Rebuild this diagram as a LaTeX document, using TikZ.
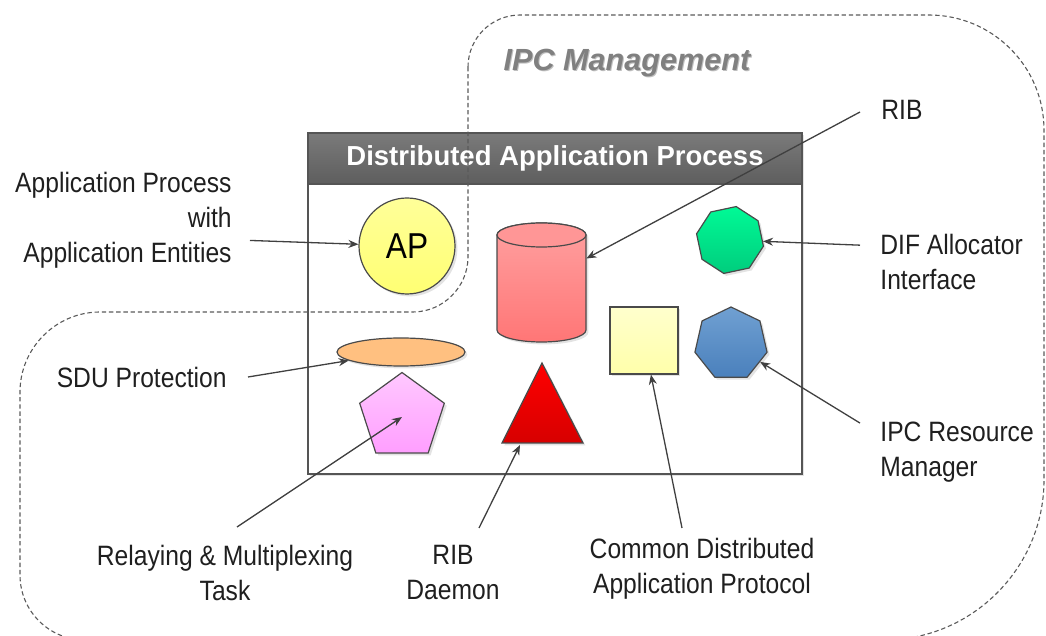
\documentclass[tikz,border=0pt]{standalone}
\usepackage{fontspec}
\setmainfont{Liberation Sans}
\newfontfamily\labfont[FakeStretch=0.88]{Liberation Sans}
\usetikzlibrary{shapes.geometric,arrows.meta,calc,shadows}
\definecolor{boxline}{HTML}{555555}
\definecolor{hdrtop}{HTML}{7A7A7A}
\definecolor{hdrbot}{HTML}{5E5E5E}
\definecolor{ipcgray}{HTML}{808080}
\definecolor{dashc}{HTML}{5A5A5A}
\definecolor{connc}{HTML}{404040}
\definecolor{shpline}{HTML}{4A4A4A}
\begin{document}
\begin{tikzpicture}[x=0.5pt,y=-0.5pt,
  lbl/.style={font=\labfont\fontsize{14}{17.5}\selectfont, inner sep=0pt, text=black!88},
  conn/.style={draw=connc, line width=0.65pt, -{Stealth[length=5pt,width=4pt]}},
  shp/.style={draw=shpline, line width=0.6pt, inner sep=0pt},
  shd/.style={drop shadow={opacity=0.22, shadow xshift=1.2pt, shadow yshift=-1.2pt}},
  ipcline/.style={draw=dashc, line width=0.55pt, dash pattern=on 2.2pt off 1.4pt},
]
\useasboundingbox (0,0) rectangle (1046,636);

% Distributed Application Process box
\node[draw=boxline, line width=1pt, fill=white, minimum width=247pt, minimum height=170.5pt, inner sep=0pt, shd] (dap) at (555,303.5) {};
\node[draw=boxline, line width=1pt, top color=hdrtop, bottom color=hdrbot, minimum width=247pt, minimum height=25.5pt, inner sep=0pt, anchor=north, text=white, font=\bfseries\fontsize{13.75}{16}\selectfont] (hdr) at (dap.north) {Distributed Application Process};

% IPC Management boundary
\begin{scope}
\clip (0,0) rectangle (1046,636);
\draw[ipcline] (468,67) .. controls (468,38.3) and (491.3,15) .. (520,15) -- (929,15)
  .. controls (992.5,15) and (1044,66.5) .. (1044,130) -- (1044,480)
  .. controls (1044,568) and (972,640) .. (884,640) -- (85,640)
  .. controls (49,640) and (20,611) .. (20,575) -- (20,392)
  .. controls (20,348) and (56,312) .. (100,312) -- (413,312)
  .. controls (443,312) and (468,287) .. (468,257) -- cycle;
\end{scope}
\node[font=\bfseries\itshape\fontsize{15.3}{18}\selectfont, text=black!25, inner sep=0pt] at (628,64) {IPC Management};
\node[font=\bfseries\itshape\fontsize{15.3}{18}\selectfont, text=ipcgray, inner sep=0pt] (ipc) at (627,63) {IPC Management};

% shapes
\node[circle, shp, shd, top color=yellow!40, bottom color=yellow!55, minimum size=48pt, font=\labfont\fontsize{18}{18}\selectfont] (ap) at (407,246) {AP};

\node[minimum width=44.5pt, minimum height=59.5pt, inner sep=0pt] (rib) at (541.5,282.5) {};
\path[shp, shd, top color={rgb,255:red,255;green,160;blue,160}, bottom color={rgb,255:red,255;green,118;blue,118}]
  (497,235) -- (497,330) arc[start angle=180, end angle=0, x radius=44.5, y radius=12]
  -- (586,235) arc[start angle=0, end angle=-180, x radius=44.5, y radius=12] -- cycle;
\draw[shp, fill={rgb,255:red,255;green,150;blue,150}] (541.5,235) ellipse[x radius=44.5, y radius=12];

\node[regular polygon, regular polygon sides=8, shape border rotate=12, shp, shd, top color={rgb,255:red,0;green,250;blue,150}, bottom color={rgb,255:red,0;green,205;blue,125}, minimum size=34pt] (dif) at (730,240) {};

\node[rectangle, shp, shd, top color={rgb,255:red,255;green,255;blue,205}, bottom color={rgb,255:red,255;green,255;blue,170}, minimum width=34pt, minimum height=33.5pt] (sq) at (644,340.5) {};

\node[regular polygon, regular polygon sides=7, shp, shd, top color={rgb,255:red,112;green,160;blue,210}, bottom color={rgb,255:red,74;green,128;blue,188}, minimum size=37pt] (irm) at (731,344) {};

\node[ellipse, shp, shd, fill={rgb,255:red,255;green,192;blue,128}, minimum width=64pt, minimum height=14pt] (sdu) at (401,352) {};

\node[regular polygon, regular polygon sides=5, shp, shd, top color={rgb,255:red,255;green,200;blue,255}, bottom color={rgb,255:red,255;green,158;blue,255}, minimum size=44.5pt] (pent) at (402,417) {};

\path[shp, shd, top color={rgb,255:red,255;green,0;blue,0}, bottom color={rgb,255:red,215;green,0;blue,0}]
  (542,363) -- (583,443) -- (502,443) -- cycle;
\coordinate (trib) at (520,445);

% labels
\node[lbl, align=right, anchor=north east] (apl) at (232,172) {Application Process\\with\\Application Entities};
\node[lbl, anchor=west] (ribl) at (881,110) {RIB};
\node[lbl, align=left, anchor=north west] (difl) at (880,234) {DIF Allocator\\Interface};
\node[lbl, align=left, anchor=north west] (irml) at (880,422) {IPC Resource\\Manager};
\node[lbl, anchor=east] (sdul) at (227,377) {SDU Protection};
\node[lbl, align=center, anchor=north] (rml) at (225,545) {Relaying \& Multiplexing\\Task};
\node[lbl, align=center, anchor=north] (ribdl) at (453,545) {RIB\\Daemon};
\node[lbl, align=center, anchor=north] (cdapl) at (702,538) {Common Distributed\\Application Protocol};

% connectors
\draw[conn] ([xshift=9pt,yshift=-10pt]apl.east) -- (ap);
\draw[conn] ([xshift=-10.5pt,yshift=-1pt]ribl.west) -- (rib);
\draw[conn] ([xshift=-10pt,yshift=8.5pt]difl.west) -- (dif);
\draw[conn] ([xshift=-10pt,yshift=14.75pt]irml.west) -- (irm);
\draw[conn] ([xshift=10.5pt]sdul.east) -- (sdu);
\draw[conn] ([xshift=6pt,yshift=9pt]rml.north) -- (pent.center);
\draw[conn] ([xshift=13pt,yshift=8.5pt]ribdl.north) -- (trib);
\draw[conn] ([xshift=-10pt,yshift=5pt]cdapl.north) -- (sq);
\end{tikzpicture}
\end{document}
